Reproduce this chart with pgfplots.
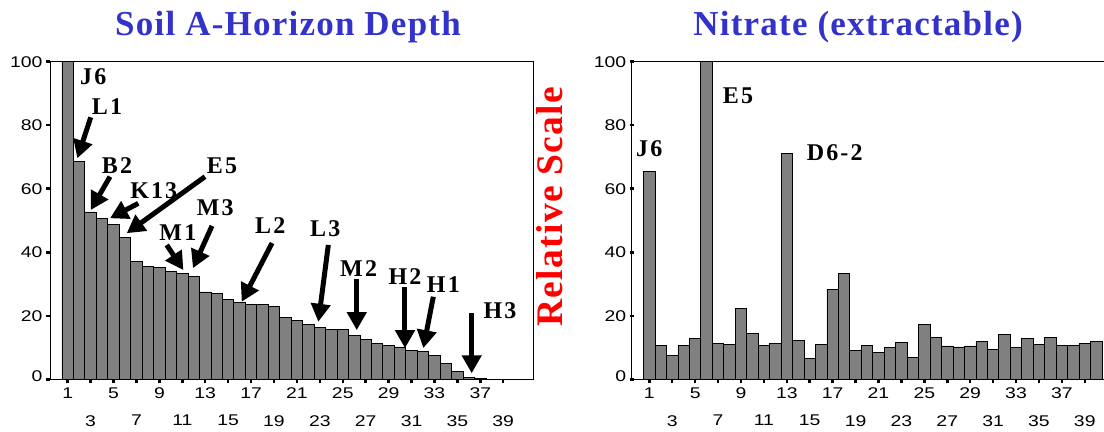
\documentclass[border=0pt]{standalone}
\usepackage{fontspec}
\setmainfont{Liberation Sans}
\newfontfamily\tickfont{Liberation Sans}[FakeStretch=1.25]
\newfontfamily\titlefont{Liberation Serif}[LetterSpace=3.5]
\newfontfamily\annfont{Liberation Serif}[LetterSpace=9]
\usepackage{pgfplots}
\usepackage{pgfplotstable}
\pgfplotsset{compat=1.18}
\usetikzlibrary{arrows.meta}
\definecolor{titleblue}{RGB}{51,51,204}
\definecolor{bargray}{RGB}{128,128,128}

\pgfplotstableread{
x y
1 100
2 68.7
3 52.7
4 50.6
5 48.8
6 44.6
7 37.1
8 35.6
9 35.2
10 33.9
11 33.3
12 32.4
13 27.5
14 26.9
15 25.1
16 24.1
17 23.5
18 23.5
19 22.8
20 19.4
21 18.4
22 17.4
23 16.2
24 15.7
25 15.7
26 13.7
27 12.5
28 11.3
29 10.8
30 10.2
31 9.1
32 8.7
33 7.6
34 4.9
35 2.6
36 0.7
37 0.3
}\soil

\pgfplotstableread{
x y
1 65.4
2 10.8
3 7.4
4 10.8
5 12.9
6 100
7 11.4
8 11.1
9 22.2
10 14.5
11 10.8
12 11.3
13 71.1
14 12.2
15 6.7
16 11.1
17 28.3
18 33.2
19 9.1
20 10.8
21 8.5
22 9.9
23 11.7
24 6.8
25 17.4
26 13.2
27 10.5
28 10.2
29 10.5
30 11.8
31 9.5
32 14.2
33 9.9
34 12.9
35 11.1
36 13.2
37 10.8
38 10.8
39 11.4
40 11.8
}\nitrate

\pgfplotsset{chartstyle/.style={
  scale only axis, height=317.6bp,
  ymin=0, ymax=100, ytick={0,20,...,100},
  yticklabels={\raisebox{7bp}{0},20,40,60,80,100},
  xtick={1,5,...,37},
  xticklabel style={yshift=-1bp},
  extra x ticks={3,7,...,39},
  extra x tick style={xticklabel style={yshift=-27.5bp}},
  tick align=outside, tick pos=left, major tick length=4bp,
  every tick/.style={black, line width=2.5bp},
  ticklabel style={font=\tickfont\fontsize{15.5bp}{15.5bp}\selectfont},
  /pgf/number format/assume math mode=true,
  axis line style={black, line width=1bp},
  ybar, bar width=1, clip=false,
}}
\tikzset{ann/.style={anchor=base west, inner sep=0pt, font=\annfont\bfseries\fontsize{24bp}{24bp}\selectfont},
  arr/.style={line width=5bp, -{Triangle[length=18bp,width=19bp]}}}

\begin{document}
\begin{tikzpicture}[x=1bp,y=1bp]
\useasboundingbox (0,0) rectangle (1104,431);

\begin{axis}[chartstyle, at={(50bp,51.7bp)}, anchor=south west,
  width=483bp, xmin=-0.545, xmax=41.6]
\addplot[fill=bargray, draw=black, line width=0.8bp] table[x=x,y=y] {\soil};
\node[ann] at (axis cs:2.07,92.9) {J6};
\node[ann] at (axis cs:3.09,83.4) {L1};
\draw[arr] (axis cs:3.01,82.5) -- (axis cs:1.84,69.6);
\node[ann] at (axis cs:3.97,64.8) {B2};
\draw[arr] (axis cs:4.69,63.8) -- (axis cs:3.01,53.3);
\node[ann] at (axis cs:6.44,57.0) {K13};
\draw[arr] (axis cs:7.16,55.4) -- (axis cs:4.69,50.7);
\node[ann] at (axis cs:13.13,64.8) {E5};
\draw[arr] (axis cs:12.98,63.8) -- (axis cs:6.15,46.0);
\node[ann] at (axis cs:12.26,51.7) {M3};
\draw[arr] (axis cs:13.59,48.3) -- (axis cs:11.93,35.0);
\node[ann] at (axis cs:8.99,43.6) {M1};
\draw[arr] (axis cs:9.64,42.3) -- (axis cs:11.09,34.4);
\node[ann] at (axis cs:17.34,46.0) {L2};
\draw[arr] (axis cs:18.83,42.9) -- (axis cs:16.18,24.4);
\node[ann] at (axis cs:22.14,44.9) {L3};
\draw[arr] (axis cs:23.74,42.3) -- (axis cs:22.87,18.1);
\node[ann] at (axis cs:24.76,32.5) {M2};
\draw[arr] (axis cs:26.22,31.5) -- (axis cs:26.22,15.5);
\node[ann] at (axis cs:28.98,30.0) {H2};
\draw[arr] (axis cs:30.43,29.0) -- (axis cs:30.43,9.8);
\node[ann] at (axis cs:32.33,27.3) {H1};
\draw[arr] (axis cs:32.90,26.0) -- (axis cs:32.03,9.8);
\node[ann] at (axis cs:37.27,19.2) {H3};
\draw[arr] (axis cs:36.25,20.8) -- (axis cs:36.25,1.9);
\end{axis}

\begin{axis}[chartstyle, at={(631.7bp,51.7bp)}, anchor=south west,
  width=472.3bp, xmin=-0.536, xmax=40.68,
  axis x line=box, axis y line=left, axis line style={-, black, line width=1bp}]
\addplot[fill=bargray, draw=black, line width=0.8bp] table[x=x,y=y] {\nitrate};
\node[ann] at (axis cs:-0.16,70.1) {J6};
\node[ann] at (axis cs:7.40,86.7) {E5};
\node[ann] at (axis cs:14.73,69.0) {D6-2};
\end{axis}

\node[anchor=base, inner sep=0pt, text=titleblue, font=\titlefont\bfseries\fontsize{35bp}{35bp}\selectfont] at (288,395) {Soil A-Horizon Depth};
\node[anchor=base, inner sep=0pt, text=titleblue, font=\titlefont\bfseries\fontsize{35bp}{35bp}\selectfont] at (858,395) {Nitrate (extractable)};
\node[rotate=90, anchor=base, inner sep=0pt, text=red, font=\titlefont\bfseries\fontsize{37.5bp}{37.5bp}\selectfont] at (562,224.3) {Relative Scale};
\end{tikzpicture}
\end{document}
